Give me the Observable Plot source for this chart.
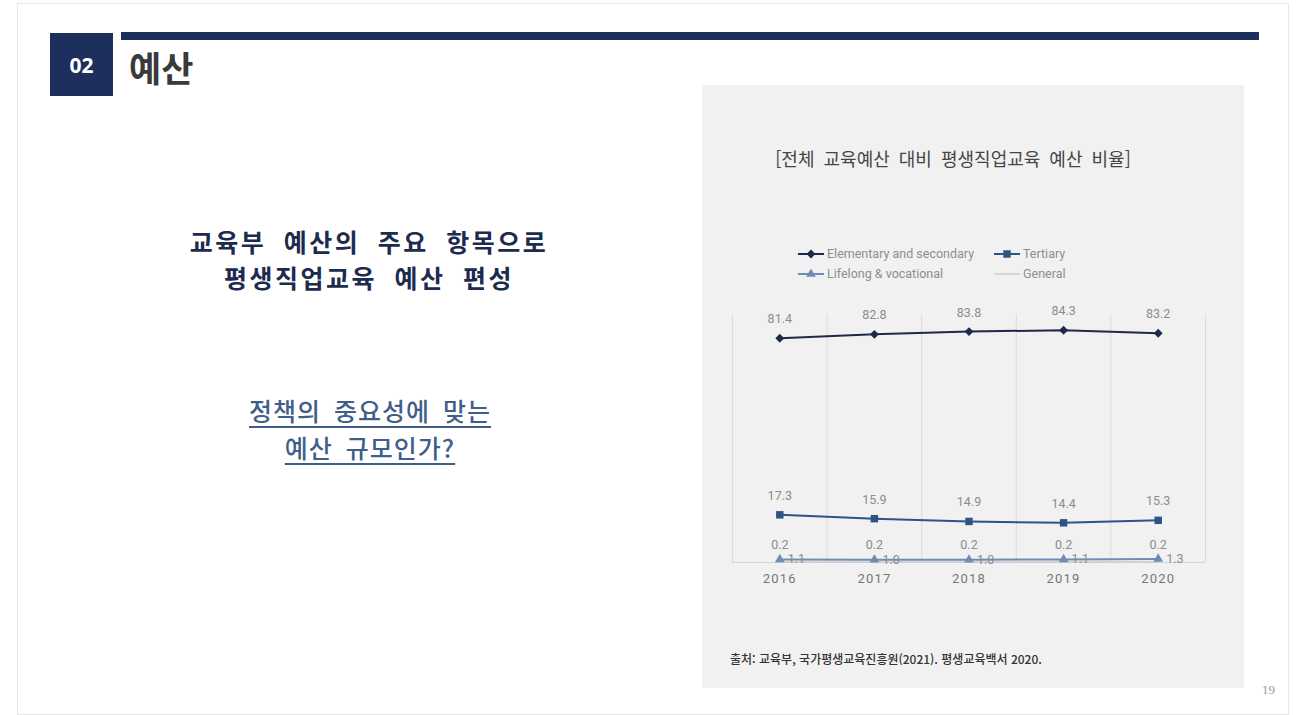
<!DOCTYPE html>
<html lang="ko">
<head>
<meta charset="utf-8">
<script src="https://cdn.jsdelivr.net/npm/d3@7"></script>
<script src="https://cdn.jsdelivr.net/npm/@observablehq/plot@0.6"></script>
<style>
  html, body { margin: 0; padding: 0; background: #ffffff; }
  body { width: 1300px; height: 715px; position: relative; overflow: hidden; font-family: "Noto Sans CJK KR", "Noto Sans", sans-serif; }
  .frame { position: absolute; left: 17px; top: 3px; width: 1272px; height: 712px; border: 1px solid #e6e6e6; box-sizing: border-box; }
  .numbox { position: absolute; left: 50px; top: 33px; width: 63px; height: 63px; background: #1d2f5c; color: #fff; font-family: "Noto Sans", "DejaVu Sans", sans-serif; font-weight: 700; font-size: 21px; display: flex; align-items: center; justify-content: center; }
  .topbar { position: absolute; left: 121px; top: 32px; width: 1138px; height: 8px; background: #1d2f5c; }
  .section { position: absolute; left: 129px; top: 49px; font-size: 35px; font-weight: 700; color: #3a3a3a; line-height: 1; letter-spacing: 0px; }
  .lead { position: absolute; left: 119px; width: 500px; text-align: center; color: #1c2b4e; font-weight: 700; font-size: 25px; line-height: 25px; letter-spacing: 2.5px; word-spacing: 8px; white-space: nowrap; }
  .question { position: absolute; left: 120px; width: 500px; text-align: center; color: #3f5f8a; font-weight: 500; font-size: 25px; line-height: 26px; letter-spacing: 1px; word-spacing: 5px; white-space: nowrap; }
  .question span { text-decoration: underline; text-decoration-thickness: 2px; text-underline-offset: 5px; }
  .panel { position: absolute; left: 702px; top: 85px; width: 542px; height: 603px; background: #f1f1f1; }
  .ctitle { position: absolute; left: 0; top: 60px; width: 502px; text-align: center; font-size: 18px; color: #454545; word-spacing: 4px; }
  .legend { position: absolute; left: 96px; top: 161px; font-family: Roboto, "Noto Sans", sans-serif; font-size: 12.5px; color: #8e8e8e; }
  .legend .item { position: absolute; white-space: nowrap; display: flex; align-items: center; }
  .legend svg { margin-right: 3px; }
  .chart { position: absolute; left: 0; top: 205px; }
  .source { position: absolute; left: 28px; top: 565px; font-size: 12px; color: #333; font-weight: 500; letter-spacing: 0; }
  .page { position: absolute; left: 1262px; top: 682px; font-family: "Liberation Serif", "DejaVu Serif", serif; font-size: 13px; color: #999; }
  .chart svg g[aria-label="x-axis tick label"] text { letter-spacing: 1.2px; }
</style>
</head>
<body>
<div class="frame"></div>
<div class="numbox">02</div>
<div class="topbar"></div>
<div class="section">예산</div>
<div class="lead" style="top:229px">교육부 예산의 주요 항목으로</div>
<div class="lead" style="top:265px">평생직업교육 예산 편성</div>
<div class="question" style="top:397px"><span>정책의 중요성에 맞는</span></div>
<div class="question" style="top:434px"><span>예산 규모인가?</span></div>

<div class="panel">
  <div class="ctitle">[전체 교육예산 대비 평생직업교육 예산 비율]</div>
  <div class="legend" id="legend"></div>
  <div class="chart" id="chart"></div>
  <div class="source">출처: 교육부, 국가평생교육진흥원(2021). 평생교육백서 2020.</div>
</div>
<div class="page">19</div>

<script>
// ---- data ----
const years = [2016, 2017, 2018, 2019, 2020];
const seriesNames = ["Elementary and secondary", "Tertiary", "Lifelong & vocational", "General"];
const elementary = [81.4, 82.8, 83.8, 84.3, 83.2];
const tertiary = [17.3, 15.9, 14.9, 14.4, 15.3];
const lifelong = [1.1, 1.0, 1.0, 1.1, 1.3];
const general = [0.2, 0.2, 0.2, 0.2, 0.2];
const yTicks = [0, 90];

// ---- styles ----
const colors = ["#1f2a4a", "#2b5586", "#6e8cb6", "#cbcbcb"];
const symbols = ["diamond2", "square", "triangle", null];
const symbolR = [4, 4.2, 3.6, 0];

const seriesValues = [elementary, tertiary, lifelong, general];
const rows = [];
seriesValues.forEach((vals, si) => {
  vals.forEach((v, i) => rows.push({series: seriesNames[si], year: years[i], value: v}));
});
const bySeries = name => rows.filter(d => d.series === name);
const bounds = years.map(y => y - 0.5).concat([years[years.length - 1] + 0.5]);

const marks = [
  Plot.ruleX(bounds, {y1: yTicks[0], y2: yTicks[1], stroke: "#dcdcdc", strokeWidth: 1}),
  Plot.ruleY([yTicks[0]], {x1: bounds[0], x2: bounds[bounds.length - 1], stroke: "#d4d4d4", strokeWidth: 1})
];
// draw order: general, lifelong, tertiary, elementary
[3, 2, 1, 0].forEach(si => {
  const data = bySeries(seriesNames[si]);
  marks.push(Plot.line(data, {x: "year", y: "value", stroke: colors[si], strokeWidth: si === 3 ? 1.5 : 2}));
  if (symbols[si]) {
    marks.push(Plot.dot(data, {x: "year", y: "value", symbol: symbols[si], r: symbolR[si], fill: colors[si], stroke: "none"}));
  }
});
// value labels
const labelStyle = {fill: "#8c8c8c", fontSize: 12.5, fontFamily: "Roboto, 'Noto Sans', sans-serif"};
marks.push(Plot.text(bySeries(seriesNames[0]), {x: "year", y: "value", text: d => d.value.toFixed(1), dy: -19, ...labelStyle}));
marks.push(Plot.text(bySeries(seriesNames[1]), {x: "year", y: "value", text: d => d.value.toFixed(1), dy: -19, ...labelStyle}));
marks.push(Plot.text(bySeries(seriesNames[3]), {x: "year", y: "value", text: d => d.value.toFixed(1), dy: -17, ...labelStyle}));
marks.push(Plot.text(bySeries(seriesNames[2]), {x: "year", y: "value", text: d => d.value.toFixed(1), dx: 8, textAnchor: "start", ...labelStyle}));

const chart = Plot.plot({
  width: 542,
  height: 310,
  marginLeft: 30,
  marginRight: 39,
  marginTop: 24,
  marginBottom: 38,
  style: {background: "transparent", fontFamily: "Roboto, 'Noto Sans', sans-serif", fontSize: "13px", color: "#777777", overflow: "visible"},
  x: {type: "linear", domain: [bounds[0], bounds[bounds.length - 1]], ticks: years, tickFormat: d => String(d), tickSize: 0, tickPadding: 11, label: null, line: false},
  y: {domain: yTicks, axis: null},
  marks
});
document.getElementById("chart").appendChild(chart);

// ---- legend ----
const legendPos = [[0, 0], [196, 0], [0, 20], [196, 20]];
const legend = document.getElementById("legend");
seriesNames.forEach((name, si) => {
  const item = document.createElement("div");
  item.className = "item";
  item.style.left = legendPos[si][0] + "px";
  item.style.top = legendPos[si][1] + "px";
  const sw = d3.create("svg").attr("width", 26).attr("height", 12);
  sw.append("line").attr("x1", 0).attr("x2", 26).attr("y1", 6).attr("y2", 6)
    .attr("stroke", colors[si]).attr("stroke-width", si === 3 ? 1.5 : 2);
  if (symbols[si]) {
    const symMap = {diamond2: d3.symbolDiamond2, square: d3.symbolSquare, triangle: d3.symbolTriangle};
    const area = Math.PI * symbolR[si] * symbolR[si];
    sw.append("path").attr("transform", "translate(13,6)")
      .attr("d", d3.symbol(symMap[symbols[si]], area)()).attr("fill", colors[si]);
  }
  item.appendChild(sw.node());
  const label = document.createElement("span");
  label.textContent = name;
  item.appendChild(label);
  legend.appendChild(item);
});
</script>
</body>
</html>
